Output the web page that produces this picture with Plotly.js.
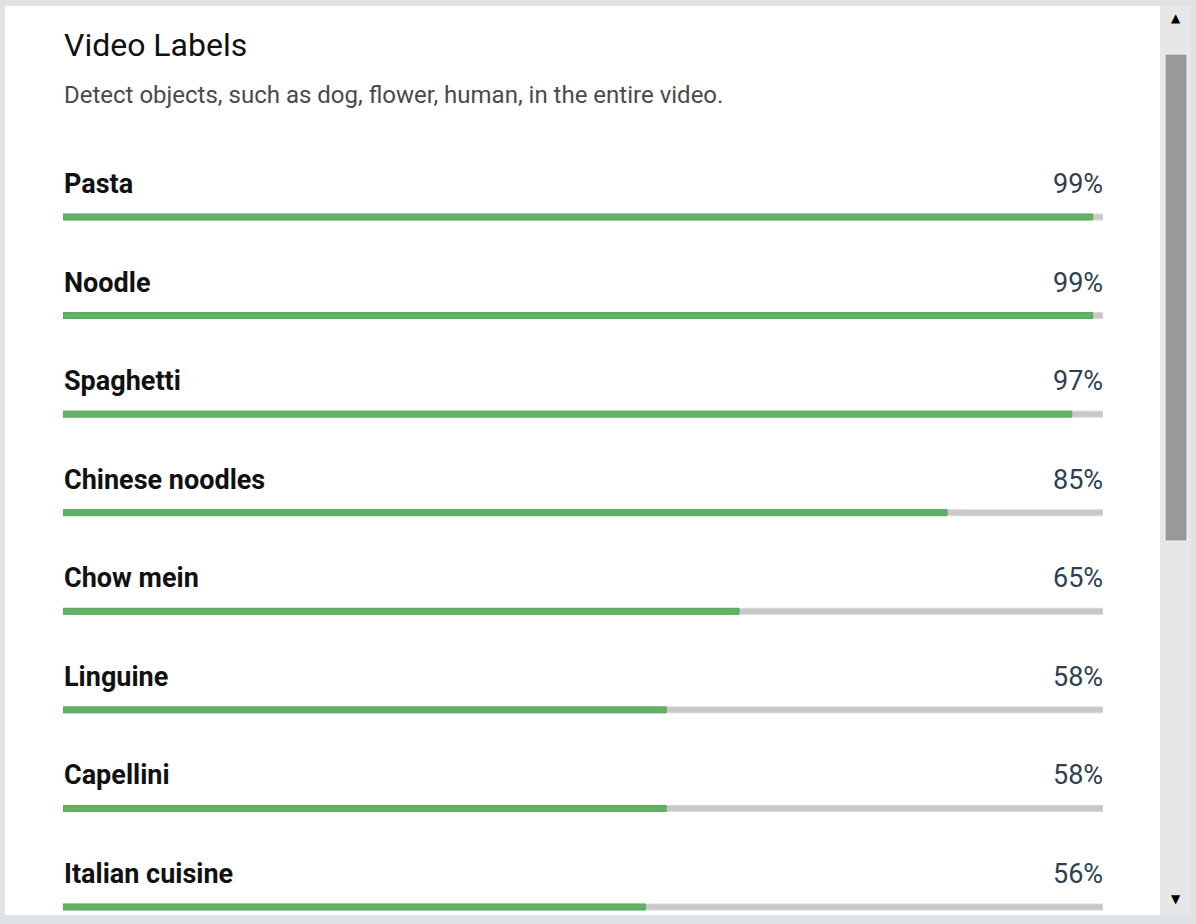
<!DOCTYPE html>
<html>
<head>
<meta charset="utf-8">
<script src="https://cdn.plot.ly/plotly-3.0.1.min.js"></script>
<style>
  html, body { margin: 0; padding: 0; background: #dfe3e6; }
  #chart { width: 1196px; height: 924px; }
</style>
</head>
<body>
<div id="chart"></div>
<script>
// Label confidence, top to bottom
const labels = ['Pasta', 'Noodle', 'Spaghetti', 'Chinese noodles', 'Chow mein',
                'Linguine', 'Capellini', 'Italian cuisine'];
const scores = [99, 99, 97, 85, 65, 58, 58, 56];
const trackMax = labels.map(() => 100);

const titleText = 'Video Labels';
const subtitleText = 'Detect objects, such as dog, flower, human, in the entire video.';

// plot area spans the bar track: 63px .. 1103px, full height
const W = 1196, H = 924, L = 63, R = 93;
const px = v => (v - L) / (W - L - R);
const py = v => 1 - v / H;

const font = 'Roboto, "Noto Sans", sans-serif';

const traces = [
  {
    type: 'bar', orientation: 'h',
    y: labels, x: trackMax,
    width: 0.06,
    marker: { color: '#c8c8c8', line: { color: '#d6d6d6', width: 1 } },
    hoverinfo: 'skip',
  },
  {
    type: 'bar', orientation: 'h',
    y: labels, x: scores,
    width: 0.06,
    marker: { color: '#62b266', line: { color: '#55a75a', width: 1 } },
    hoverinfo: 'skip',
  },
];

const annotations = [];
labels.forEach((lab, i) => {
  annotations.push({
    xref: 'paper', yref: 'y', x: 0, y: lab, yshift: 33, xshift: 0,
    xanchor: 'left', yanchor: 'middle', showarrow: false, borderpad: 0,
    text: '<b>' + lab + '</b>',
    font: { family: font, size: 27, color: '#111111' },
  });
  annotations.push({
    xref: 'paper', yref: 'y', x: 1, y: lab, yshift: 33, xshift: 1,
    xanchor: 'right', yanchor: 'middle', showarrow: false, borderpad: 0,
    text: scores[i] + '%',
    font: { family: font, size: 27, color: '#2e3f4f' },
  });
});

annotations.push({
  xref: 'paper', yref: 'paper', x: 0, y: py(45),
  xanchor: 'left', yanchor: 'middle', showarrow: false, borderpad: 0,
  text: titleText,
  font: { family: font, size: 32, color: '#111111' },
});
annotations.push({
  xref: 'paper', yref: 'paper', x: 0, y: py(95),
  xanchor: 'left', yanchor: 'middle', showarrow: false, borderpad: 0,
  text: subtitleText,
  font: { family: font, size: 24, color: '#4a4a4a' },
});
// scrollbar arrows
annotations.push({
  xref: 'paper', yref: 'paper', x: px(1176), y: py(18),
  xanchor: 'center', yanchor: 'middle', showarrow: false,
  text: '▲', font: { family: 'DejaVu Sans', size: 12, color: '#000' },
});
annotations.push({
  xref: 'paper', yref: 'paper', x: px(1176), y: py(899),
  xanchor: 'center', yanchor: 'middle', showarrow: false,
  text: '▼', font: { family: 'DejaVu Sans', size: 12, color: '#000' },
});

const shapes = [
  // white panel
  { type: 'rect', layer: 'below', xref: 'paper', yref: 'paper',
    x0: px(5), x1: px(1160), y0: py(915), y1: py(6),
    fillcolor: '#ffffff', line: { width: 0 } },
  // scrollbar track
  { type: 'rect', layer: 'below', xref: 'paper', yref: 'paper',
    x0: px(1160), x1: px(1191), y0: py(915), y1: py(6),
    fillcolor: '#e7e7e7', line: { width: 0 } },
  // scrollbar thumb
  { type: 'rect', layer: 'below', xref: 'paper', yref: 'paper',
    x0: px(1165), x1: px(1187), y0: py(541), y1: py(54),
    fillcolor: '#999999', line: { color: '#f4f4f4', width: 1 } },
];

// category 0 sits at 217px, 98.57px per row
const rowPx = (907 - 217) / 7;
const layout = {
  width: W, height: H,
  margin: { t: 0, r: R, b: 0, l: L, pad: 0 },
  paper_bgcolor: '#dfe3e6',
  plot_bgcolor: 'rgba(0,0,0,0)',
  barmode: 'overlay',
  showlegend: false,
  xaxis: { range: [0, 100], visible: false, fixedrange: true },
  yaxis: {
    type: 'category', categoryarray: labels, visible: false, fixedrange: true,
    range: [(labels.length - 1) + (H - 907) / rowPx, -217 / rowPx],
  },
  shapes: shapes,
  annotations: annotations,
};

Plotly.newPlot('chart', traces, layout, { displayModeBar: false, staticPlot: true });
</script>
</body>
</html>
